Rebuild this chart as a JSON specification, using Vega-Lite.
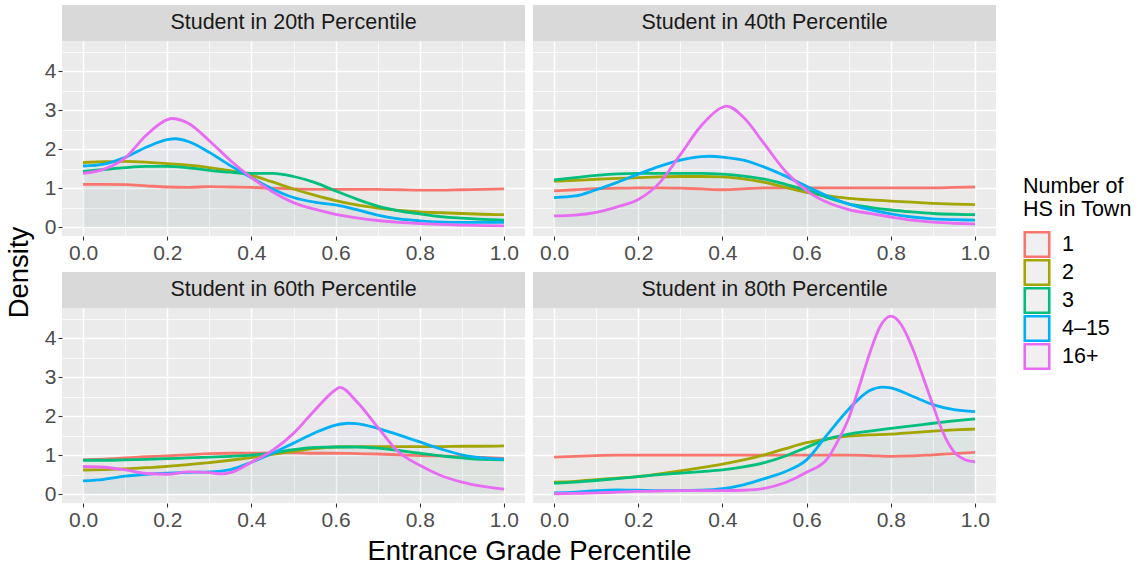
{
  "$schema": "https://vega.github.io/schema/vega-lite/v6.json",
  "padding": {"left": 5, "top": 5, "right": 5, "bottom": 2},
  "config": {
    "font": "Liberation Sans",
    "view": {"stroke": null},
    "axis": {
      "domain": false,
      "gridColor": "#FFFFFF",
      "gridOpacity": 1,
      "tickColor": "#333333",
      "tickSize": 4,
      "tickWidth": 1.1,
      "labelColor": "#4D4D4D",
      "labelFontSize": 21,
      "labelPadding": 2,
      "labelOverlap": false,
      "titleFontSize": 27.5,
      "titleFontWeight": "normal",
      "titleColor": "#000000"
    },
    "legend": {
      "symbolType": "square",
      "symbolSize": 600,
      "symbolStrokeWidth": 2.6,
      "symbolFillColor": "#F0F0F0",
      "symbolOpacity": 1,
      "labelFontSize": 21.5,
      "labelColor": "#000000",
      "labelOffset": 11,
      "clipHeight": 28,
      "rowPadding": 0,
      "titleFontSize": 21.5,
      "titleFontWeight": "normal",
      "titleColor": "#000000",
      "titleAlign": "left",
      "titleAnchor": "start",
      "titleLineHeight": 23,
      "titlePadding": 10,
      "padding": 0
    }
  },
  "datasets": {
    "curves": [
      {"p":"20th","g":"1","x":0,"y":1.10},{"p":"20th","g":"1","x":0.05,"y":1.10},{"p":"20th","g":"1","x":0.1,"y":1.09},{"p":"20th","g":"1","x":0.15,"y":1.06},{"p":"20th","g":"1","x":0.2,"y":1.03},{"p":"20th","g":"1","x":0.25,"y":1.02},{"p":"20th","g":"1","x":0.3,"y":1.04},{"p":"20th","g":"1","x":0.35,"y":1.03},{"p":"20th","g":"1","x":0.4,"y":1.02},{"p":"20th","g":"1","x":0.45,"y":1.0},{"p":"20th","g":"1","x":0.5,"y":0.98},{"p":"20th","g":"1","x":0.55,"y":0.97},{"p":"20th","g":"1","x":0.6,"y":0.97},{"p":"20th","g":"1","x":0.65,"y":0.97},{"p":"20th","g":"1","x":0.7,"y":0.97},{"p":"20th","g":"1","x":0.75,"y":0.96},{"p":"20th","g":"1","x":0.8,"y":0.95},{"p":"20th","g":"1","x":0.85,"y":0.95},{"p":"20th","g":"1","x":0.9,"y":0.96},{"p":"20th","g":"1","x":0.95,"y":0.97},{"p":"20th","g":"1","x":1,"y":0.98},
      {"p":"20th","g":"2","x":0,"y":1.66},{"p":"20th","g":"2","x":0.05,"y":1.68},{"p":"20th","g":"2","x":0.1,"y":1.69},{"p":"20th","g":"2","x":0.15,"y":1.67},{"p":"20th","g":"2","x":0.2,"y":1.63},{"p":"20th","g":"2","x":0.25,"y":1.59},{"p":"20th","g":"2","x":0.3,"y":1.53},{"p":"20th","g":"2","x":0.35,"y":1.45},{"p":"20th","g":"2","x":0.4,"y":1.33},{"p":"20th","g":"2","x":0.45,"y":1.16},{"p":"20th","g":"2","x":0.5,"y":0.98},{"p":"20th","g":"2","x":0.55,"y":0.82},{"p":"20th","g":"2","x":0.6,"y":0.68},{"p":"20th","g":"2","x":0.65,"y":0.57},{"p":"20th","g":"2","x":0.7,"y":0.49},{"p":"20th","g":"2","x":0.75,"y":0.43},{"p":"20th","g":"2","x":0.8,"y":0.39},{"p":"20th","g":"2","x":0.85,"y":0.37},{"p":"20th","g":"2","x":0.9,"y":0.35},{"p":"20th","g":"2","x":0.95,"y":0.33},{"p":"20th","g":"2","x":1,"y":0.32},
      {"p":"20th","g":"3","x":0,"y":1.43},{"p":"20th","g":"3","x":0.05,"y":1.48},{"p":"20th","g":"3","x":0.1,"y":1.53},{"p":"20th","g":"3","x":0.15,"y":1.56},{"p":"20th","g":"3","x":0.2,"y":1.56},{"p":"20th","g":"3","x":0.25,"y":1.52},{"p":"20th","g":"3","x":0.3,"y":1.46},{"p":"20th","g":"3","x":0.35,"y":1.41},{"p":"20th","g":"3","x":0.4,"y":1.38},{"p":"20th","g":"3","x":0.45,"y":1.38},{"p":"20th","g":"3","x":0.5,"y":1.30},{"p":"20th","g":"3","x":0.55,"y":1.15},{"p":"20th","g":"3","x":0.6,"y":0.93},{"p":"20th","g":"3","x":0.65,"y":0.72},{"p":"20th","g":"3","x":0.7,"y":0.54},{"p":"20th","g":"3","x":0.75,"y":0.42},{"p":"20th","g":"3","x":0.8,"y":0.34},{"p":"20th","g":"3","x":0.85,"y":0.27},{"p":"20th","g":"3","x":0.9,"y":0.23},{"p":"20th","g":"3","x":0.95,"y":0.20},{"p":"20th","g":"3","x":1,"y":0.18},
      {"p":"20th","g":"4–15","x":0,"y":1.57},{"p":"20th","g":"4–15","x":0.05,"y":1.62},{"p":"20th","g":"4–15","x":0.1,"y":1.79},{"p":"20th","g":"4–15","x":0.15,"y":2.05},{"p":"20th","g":"4–15","x":0.2,"y":2.25},{"p":"20th","g":"4–15","x":0.22,"y":2.27},{"p":"20th","g":"4–15","x":0.25,"y":2.20},{"p":"20th","g":"4–15","x":0.3,"y":1.92},{"p":"20th","g":"4–15","x":0.35,"y":1.58},{"p":"20th","g":"4–15","x":0.4,"y":1.27},{"p":"20th","g":"4–15","x":0.45,"y":0.98},{"p":"20th","g":"4–15","x":0.5,"y":0.76},{"p":"20th","g":"4–15","x":0.55,"y":0.64},{"p":"20th","g":"4–15","x":0.6,"y":0.57},{"p":"20th","g":"4–15","x":0.65,"y":0.45},{"p":"20th","g":"4–15","x":0.7,"y":0.31},{"p":"20th","g":"4–15","x":0.75,"y":0.21},{"p":"20th","g":"4–15","x":0.8,"y":0.16},{"p":"20th","g":"4–15","x":0.85,"y":0.13},{"p":"20th","g":"4–15","x":0.9,"y":0.12},{"p":"20th","g":"4–15","x":0.95,"y":0.12},{"p":"20th","g":"4–15","x":1,"y":0.12},
      {"p":"20th","g":"16+","x":0,"y":1.38},{"p":"20th","g":"16+","x":0.05,"y":1.49},{"p":"20th","g":"16+","x":0.1,"y":1.78},{"p":"20th","g":"16+","x":0.15,"y":2.36},{"p":"20th","g":"16+","x":0.2,"y":2.76},{"p":"20th","g":"16+","x":0.21,"y":2.79},{"p":"20th","g":"16+","x":0.25,"y":2.67},{"p":"20th","g":"16+","x":0.3,"y":2.22},{"p":"20th","g":"16+","x":0.35,"y":1.71},{"p":"20th","g":"16+","x":0.4,"y":1.27},{"p":"20th","g":"16+","x":0.45,"y":0.91},{"p":"20th","g":"16+","x":0.5,"y":0.63},{"p":"20th","g":"16+","x":0.55,"y":0.46},{"p":"20th","g":"16+","x":0.6,"y":0.33},{"p":"20th","g":"16+","x":0.65,"y":0.24},{"p":"20th","g":"16+","x":0.7,"y":0.17},{"p":"20th","g":"16+","x":0.75,"y":0.12},{"p":"20th","g":"16+","x":0.8,"y":0.09},{"p":"20th","g":"16+","x":0.85,"y":0.07},{"p":"20th","g":"16+","x":0.9,"y":0.05},{"p":"20th","g":"16+","x":0.95,"y":0.04},{"p":"20th","g":"16+","x":1,"y":0.03},

      {"p":"40th","g":"1","x":0,"y":0.93},{"p":"40th","g":"1","x":0.05,"y":0.96},{"p":"40th","g":"1","x":0.1,"y":0.99},{"p":"40th","g":"1","x":0.15,"y":1.0},{"p":"40th","g":"1","x":0.2,"y":1.01},{"p":"40th","g":"1","x":0.25,"y":1.01},{"p":"40th","g":"1","x":0.3,"y":1.0},{"p":"40th","g":"1","x":0.35,"y":0.98},{"p":"40th","g":"1","x":0.4,"y":0.96},{"p":"40th","g":"1","x":0.45,"y":0.98},{"p":"40th","g":"1","x":0.5,"y":1.01},{"p":"40th","g":"1","x":0.55,"y":1.01},{"p":"40th","g":"1","x":0.6,"y":1.01},{"p":"40th","g":"1","x":0.65,"y":1.01},{"p":"40th","g":"1","x":0.7,"y":1.01},{"p":"40th","g":"1","x":0.75,"y":1.01},{"p":"40th","g":"1","x":0.8,"y":1.01},{"p":"40th","g":"1","x":0.85,"y":1.01},{"p":"40th","g":"1","x":0.9,"y":1.01},{"p":"40th","g":"1","x":0.95,"y":1.02},{"p":"40th","g":"1","x":1,"y":1.03},
      {"p":"40th","g":"2","x":0,"y":1.18},{"p":"40th","g":"2","x":0.05,"y":1.20},{"p":"40th","g":"2","x":0.1,"y":1.23},{"p":"40th","g":"2","x":0.15,"y":1.25},{"p":"40th","g":"2","x":0.2,"y":1.27},{"p":"40th","g":"2","x":0.25,"y":1.29},{"p":"40th","g":"2","x":0.3,"y":1.30},{"p":"40th","g":"2","x":0.35,"y":1.30},{"p":"40th","g":"2","x":0.4,"y":1.29},{"p":"40th","g":"2","x":0.45,"y":1.24},{"p":"40th","g":"2","x":0.5,"y":1.15},{"p":"40th","g":"2","x":0.55,"y":1.02},{"p":"40th","g":"2","x":0.6,"y":0.89},{"p":"40th","g":"2","x":0.65,"y":0.80},{"p":"40th","g":"2","x":0.7,"y":0.74},{"p":"40th","g":"2","x":0.75,"y":0.70},{"p":"40th","g":"2","x":0.8,"y":0.67},{"p":"40th","g":"2","x":0.85,"y":0.64},{"p":"40th","g":"2","x":0.9,"y":0.61},{"p":"40th","g":"2","x":0.95,"y":0.59},{"p":"40th","g":"2","x":1,"y":0.58},
      {"p":"40th","g":"3","x":0,"y":1.21},{"p":"40th","g":"3","x":0.05,"y":1.27},{"p":"40th","g":"3","x":0.1,"y":1.33},{"p":"40th","g":"3","x":0.15,"y":1.37},{"p":"40th","g":"3","x":0.2,"y":1.38},{"p":"40th","g":"3","x":0.25,"y":1.38},{"p":"40th","g":"3","x":0.3,"y":1.38},{"p":"40th","g":"3","x":0.35,"y":1.38},{"p":"40th","g":"3","x":0.4,"y":1.36},{"p":"40th","g":"3","x":0.45,"y":1.31},{"p":"40th","g":"3","x":0.5,"y":1.23},{"p":"40th","g":"3","x":0.55,"y":1.10},{"p":"40th","g":"3","x":0.6,"y":0.95},{"p":"40th","g":"3","x":0.65,"y":0.76},{"p":"40th","g":"3","x":0.7,"y":0.60},{"p":"40th","g":"3","x":0.75,"y":0.51},{"p":"40th","g":"3","x":0.8,"y":0.44},{"p":"40th","g":"3","x":0.85,"y":0.39},{"p":"40th","g":"3","x":0.9,"y":0.35},{"p":"40th","g":"3","x":0.95,"y":0.33},{"p":"40th","g":"3","x":1,"y":0.32},
      {"p":"40th","g":"4–15","x":0,"y":0.76},{"p":"40th","g":"4–15","x":0.05,"y":0.80},{"p":"40th","g":"4–15","x":0.1,"y":0.96},{"p":"40th","g":"4–15","x":0.15,"y":1.15},{"p":"40th","g":"4–15","x":0.2,"y":1.36},{"p":"40th","g":"4–15","x":0.25,"y":1.56},{"p":"40th","g":"4–15","x":0.3,"y":1.72},{"p":"40th","g":"4–15","x":0.35,"y":1.81},{"p":"40th","g":"4–15","x":0.37,"y":1.82},{"p":"40th","g":"4–15","x":0.4,"y":1.80},{"p":"40th","g":"4–15","x":0.45,"y":1.72},{"p":"40th","g":"4–15","x":0.5,"y":1.54},{"p":"40th","g":"4–15","x":0.55,"y":1.31},{"p":"40th","g":"4–15","x":0.6,"y":1.05},{"p":"40th","g":"4–15","x":0.65,"y":0.80},{"p":"40th","g":"4–15","x":0.7,"y":0.59},{"p":"40th","g":"4–15","x":0.75,"y":0.45},{"p":"40th","g":"4–15","x":0.8,"y":0.34},{"p":"40th","g":"4–15","x":0.85,"y":0.26},{"p":"40th","g":"4–15","x":0.9,"y":0.21},{"p":"40th","g":"4–15","x":0.95,"y":0.19},{"p":"40th","g":"4–15","x":1,"y":0.18},
      {"p":"40th","g":"16+","x":0,"y":0.29},{"p":"40th","g":"16+","x":0.05,"y":0.31},{"p":"40th","g":"16+","x":0.1,"y":0.38},{"p":"40th","g":"16+","x":0.15,"y":0.52},{"p":"40th","g":"16+","x":0.2,"y":0.71},{"p":"40th","g":"16+","x":0.25,"y":1.13},{"p":"40th","g":"16+","x":0.3,"y":1.86},{"p":"40th","g":"16+","x":0.35,"y":2.61},{"p":"40th","g":"16+","x":0.4,"y":3.08},{"p":"40th","g":"16+","x":0.41,"y":3.11},{"p":"40th","g":"16+","x":0.45,"y":2.82},{"p":"40th","g":"16+","x":0.5,"y":2.13},{"p":"40th","g":"16+","x":0.55,"y":1.43},{"p":"40th","g":"16+","x":0.6,"y":0.94},{"p":"40th","g":"16+","x":0.65,"y":0.63},{"p":"40th","g":"16+","x":0.7,"y":0.45},{"p":"40th","g":"16+","x":0.75,"y":0.35},{"p":"40th","g":"16+","x":0.8,"y":0.26},{"p":"40th","g":"16+","x":0.85,"y":0.18},{"p":"40th","g":"16+","x":0.9,"y":0.13},{"p":"40th","g":"16+","x":0.95,"y":0.10},{"p":"40th","g":"16+","x":1,"y":0.08},

      {"p":"60th","g":"1","x":0,"y":0.88},{"p":"60th","g":"1","x":0.05,"y":0.90},{"p":"60th","g":"1","x":0.1,"y":0.93},{"p":"60th","g":"1","x":0.15,"y":0.96},{"p":"60th","g":"1","x":0.2,"y":0.98},{"p":"60th","g":"1","x":0.25,"y":1.01},{"p":"60th","g":"1","x":0.3,"y":1.04},{"p":"60th","g":"1","x":0.35,"y":1.05},{"p":"60th","g":"1","x":0.4,"y":1.05},{"p":"60th","g":"1","x":0.45,"y":1.06},{"p":"60th","g":"1","x":0.5,"y":1.06},{"p":"60th","g":"1","x":0.55,"y":1.05},{"p":"60th","g":"1","x":0.6,"y":1.05},{"p":"60th","g":"1","x":0.65,"y":1.04},{"p":"60th","g":"1","x":0.7,"y":1.03},{"p":"60th","g":"1","x":0.75,"y":1.01},{"p":"60th","g":"1","x":0.8,"y":0.99},{"p":"60th","g":"1","x":0.85,"y":0.98},{"p":"60th","g":"1","x":0.9,"y":0.96},{"p":"60th","g":"1","x":0.95,"y":0.94},{"p":"60th","g":"1","x":1,"y":0.92},
      {"p":"60th","g":"2","x":0,"y":0.62},{"p":"60th","g":"2","x":0.05,"y":0.63},{"p":"60th","g":"2","x":0.1,"y":0.65},{"p":"60th","g":"2","x":0.15,"y":0.68},{"p":"60th","g":"2","x":0.2,"y":0.71},{"p":"60th","g":"2","x":0.25,"y":0.76},{"p":"60th","g":"2","x":0.3,"y":0.81},{"p":"60th","g":"2","x":0.35,"y":0.87},{"p":"60th","g":"2","x":0.4,"y":0.94},{"p":"60th","g":"2","x":0.45,"y":1.02},{"p":"60th","g":"2","x":0.5,"y":1.10},{"p":"60th","g":"2","x":0.55,"y":1.17},{"p":"60th","g":"2","x":0.6,"y":1.21},{"p":"60th","g":"2","x":0.65,"y":1.22},{"p":"60th","g":"2","x":0.7,"y":1.22},{"p":"60th","g":"2","x":0.75,"y":1.22},{"p":"60th","g":"2","x":0.8,"y":1.22},{"p":"60th","g":"2","x":0.85,"y":1.22},{"p":"60th","g":"2","x":0.9,"y":1.23},{"p":"60th","g":"2","x":0.95,"y":1.23},{"p":"60th","g":"2","x":1,"y":1.24},
      {"p":"60th","g":"3","x":0,"y":0.87},{"p":"60th","g":"3","x":0.05,"y":0.87},{"p":"60th","g":"3","x":0.1,"y":0.88},{"p":"60th","g":"3","x":0.15,"y":0.89},{"p":"60th","g":"3","x":0.2,"y":0.91},{"p":"60th","g":"3","x":0.25,"y":0.93},{"p":"60th","g":"3","x":0.3,"y":0.95},{"p":"60th","g":"3","x":0.35,"y":0.97},{"p":"60th","g":"3","x":0.4,"y":1.0},{"p":"60th","g":"3","x":0.45,"y":1.06},{"p":"60th","g":"3","x":0.5,"y":1.14},{"p":"60th","g":"3","x":0.55,"y":1.20},{"p":"60th","g":"3","x":0.6,"y":1.21},{"p":"60th","g":"3","x":0.65,"y":1.21},{"p":"60th","g":"3","x":0.7,"y":1.18},{"p":"60th","g":"3","x":0.75,"y":1.12},{"p":"60th","g":"3","x":0.8,"y":1.05},{"p":"60th","g":"3","x":0.85,"y":0.98},{"p":"60th","g":"3","x":0.9,"y":0.93},{"p":"60th","g":"3","x":0.95,"y":0.89},{"p":"60th","g":"3","x":1,"y":0.88},
      {"p":"60th","g":"4–15","x":0,"y":0.34},{"p":"60th","g":"4–15","x":0.05,"y":0.38},{"p":"60th","g":"4–15","x":0.1,"y":0.46},{"p":"60th","g":"4–15","x":0.15,"y":0.51},{"p":"60th","g":"4–15","x":0.2,"y":0.54},{"p":"60th","g":"4–15","x":0.25,"y":0.56},{"p":"60th","g":"4–15","x":0.3,"y":0.57},{"p":"60th","g":"4–15","x":0.35,"y":0.63},{"p":"60th","g":"4–15","x":0.4,"y":0.82},{"p":"60th","g":"4–15","x":0.45,"y":1.05},{"p":"60th","g":"4–15","x":0.5,"y":1.31},{"p":"60th","g":"4–15","x":0.55,"y":1.57},{"p":"60th","g":"4–15","x":0.6,"y":1.77},{"p":"60th","g":"4–15","x":0.63,"y":1.82},{"p":"60th","g":"4–15","x":0.65,"y":1.81},{"p":"60th","g":"4–15","x":0.7,"y":1.69},{"p":"60th","g":"4–15","x":0.75,"y":1.52},{"p":"60th","g":"4–15","x":0.8,"y":1.34},{"p":"60th","g":"4–15","x":0.85,"y":1.16},{"p":"60th","g":"4–15","x":0.9,"y":1.01},{"p":"60th","g":"4–15","x":0.95,"y":0.93},{"p":"60th","g":"4–15","x":1,"y":0.90},
      {"p":"60th","g":"16+","x":0,"y":0.71},{"p":"60th","g":"16+","x":0.05,"y":0.69},{"p":"60th","g":"16+","x":0.1,"y":0.62},{"p":"60th","g":"16+","x":0.15,"y":0.53},{"p":"60th","g":"16+","x":0.2,"y":0.51},{"p":"60th","g":"16+","x":0.25,"y":0.57},{"p":"60th","g":"16+","x":0.3,"y":0.55},{"p":"60th","g":"16+","x":0.33,"y":0.52},{"p":"60th","g":"16+","x":0.35,"y":0.55},{"p":"60th","g":"16+","x":0.4,"y":0.82},{"p":"60th","g":"16+","x":0.45,"y":1.12},{"p":"60th","g":"16+","x":0.5,"y":1.56},{"p":"60th","g":"16+","x":0.55,"y":2.15},{"p":"60th","g":"16+","x":0.6,"y":2.68},{"p":"60th","g":"16+","x":0.61,"y":2.74},{"p":"60th","g":"16+","x":0.65,"y":2.38},{"p":"60th","g":"16+","x":0.7,"y":1.72},{"p":"60th","g":"16+","x":0.75,"y":1.08},{"p":"60th","g":"16+","x":0.8,"y":0.74},{"p":"60th","g":"16+","x":0.85,"y":0.48},{"p":"60th","g":"16+","x":0.9,"y":0.31},{"p":"60th","g":"16+","x":0.95,"y":0.20},{"p":"60th","g":"16+","x":1,"y":0.13},

      {"p":"80th","g":"1","x":0,"y":0.95},{"p":"80th","g":"1","x":0.05,"y":0.97},{"p":"80th","g":"1","x":0.1,"y":0.99},{"p":"80th","g":"1","x":0.15,"y":1.0},{"p":"80th","g":"1","x":0.2,"y":1.0},{"p":"80th","g":"1","x":0.25,"y":1.0},{"p":"80th","g":"1","x":0.3,"y":1.0},{"p":"80th","g":"1","x":0.35,"y":1.0},{"p":"80th","g":"1","x":0.4,"y":1.0},{"p":"80th","g":"1","x":0.45,"y":1.0},{"p":"80th","g":"1","x":0.5,"y":1.0},{"p":"80th","g":"1","x":0.55,"y":1.0},{"p":"80th","g":"1","x":0.6,"y":1.0},{"p":"80th","g":"1","x":0.65,"y":1.0},{"p":"80th","g":"1","x":0.7,"y":1.0},{"p":"80th","g":"1","x":0.75,"y":0.99},{"p":"80th","g":"1","x":0.8,"y":0.97},{"p":"80th","g":"1","x":0.85,"y":0.98},{"p":"80th","g":"1","x":0.9,"y":1.01},{"p":"80th","g":"1","x":0.95,"y":1.04},{"p":"80th","g":"1","x":1,"y":1.07},
      {"p":"80th","g":"2","x":0,"y":0.31},{"p":"80th","g":"2","x":0.05,"y":0.33},{"p":"80th","g":"2","x":0.1,"y":0.37},{"p":"80th","g":"2","x":0.15,"y":0.41},{"p":"80th","g":"2","x":0.2,"y":0.45},{"p":"80th","g":"2","x":0.25,"y":0.52},{"p":"80th","g":"2","x":0.3,"y":0.60},{"p":"80th","g":"2","x":0.35,"y":0.68},{"p":"80th","g":"2","x":0.4,"y":0.77},{"p":"80th","g":"2","x":0.45,"y":0.88},{"p":"80th","g":"2","x":0.5,"y":1.01},{"p":"80th","g":"2","x":0.55,"y":1.17},{"p":"80th","g":"2","x":0.6,"y":1.32},{"p":"80th","g":"2","x":0.65,"y":1.42},{"p":"80th","g":"2","x":0.7,"y":1.49},{"p":"80th","g":"2","x":0.75,"y":1.52},{"p":"80th","g":"2","x":0.8,"y":1.54},{"p":"80th","g":"2","x":0.85,"y":1.58},{"p":"80th","g":"2","x":0.9,"y":1.62},{"p":"80th","g":"2","x":0.95,"y":1.65},{"p":"80th","g":"2","x":1,"y":1.67},
      {"p":"80th","g":"3","x":0,"y":0.28},{"p":"80th","g":"3","x":0.05,"y":0.31},{"p":"80th","g":"3","x":0.1,"y":0.35},{"p":"80th","g":"3","x":0.15,"y":0.40},{"p":"80th","g":"3","x":0.2,"y":0.45},{"p":"80th","g":"3","x":0.25,"y":0.50},{"p":"80th","g":"3","x":0.3,"y":0.54},{"p":"80th","g":"3","x":0.35,"y":0.58},{"p":"80th","g":"3","x":0.4,"y":0.62},{"p":"80th","g":"3","x":0.45,"y":0.70},{"p":"80th","g":"3","x":0.5,"y":0.81},{"p":"80th","g":"3","x":0.55,"y":0.98},{"p":"80th","g":"3","x":0.6,"y":1.20},{"p":"80th","g":"3","x":0.65,"y":1.42},{"p":"80th","g":"3","x":0.7,"y":1.54},{"p":"80th","g":"3","x":0.75,"y":1.62},{"p":"80th","g":"3","x":0.8,"y":1.69},{"p":"80th","g":"3","x":0.85,"y":1.75},{"p":"80th","g":"3","x":0.9,"y":1.82},{"p":"80th","g":"3","x":0.95,"y":1.88},{"p":"80th","g":"3","x":1,"y":1.93},
      {"p":"80th","g":"4–15","x":0,"y":0.03},{"p":"80th","g":"4–15","x":0.05,"y":0.05},{"p":"80th","g":"4–15","x":0.1,"y":0.09},{"p":"80th","g":"4–15","x":0.15,"y":0.11},{"p":"80th","g":"4–15","x":0.2,"y":0.10},{"p":"80th","g":"4–15","x":0.25,"y":0.09},{"p":"80th","g":"4–15","x":0.3,"y":0.09},{"p":"80th","g":"4–15","x":0.35,"y":0.10},{"p":"80th","g":"4–15","x":0.4,"y":0.14},{"p":"80th","g":"4–15","x":0.45,"y":0.24},{"p":"80th","g":"4–15","x":0.5,"y":0.40},{"p":"80th","g":"4–15","x":0.55,"y":0.58},{"p":"80th","g":"4–15","x":0.6,"y":0.88},{"p":"80th","g":"4–15","x":0.65,"y":1.54},{"p":"80th","g":"4–15","x":0.7,"y":2.18},{"p":"80th","g":"4–15","x":0.75,"y":2.66},{"p":"80th","g":"4–15","x":0.78,"y":2.75},{"p":"80th","g":"4–15","x":0.8,"y":2.73},{"p":"80th","g":"4–15","x":0.85,"y":2.52},{"p":"80th","g":"4–15","x":0.9,"y":2.30},{"p":"80th","g":"4–15","x":0.95,"y":2.17},{"p":"80th","g":"4–15","x":1,"y":2.12},
      {"p":"80th","g":"16+","x":0,"y":0.01},{"p":"80th","g":"16+","x":0.05,"y":0.02},{"p":"80th","g":"16+","x":0.1,"y":0.03},{"p":"80th","g":"16+","x":0.15,"y":0.05},{"p":"80th","g":"16+","x":0.2,"y":0.07},{"p":"80th","g":"16+","x":0.25,"y":0.08},{"p":"80th","g":"16+","x":0.3,"y":0.09},{"p":"80th","g":"16+","x":0.35,"y":0.09},{"p":"80th","g":"16+","x":0.4,"y":0.09},{"p":"80th","g":"16+","x":0.45,"y":0.10},{"p":"80th","g":"16+","x":0.5,"y":0.15},{"p":"80th","g":"16+","x":0.55,"y":0.30},{"p":"80th","g":"16+","x":0.6,"y":0.56},{"p":"80th","g":"16+","x":0.65,"y":0.92},{"p":"80th","g":"16+","x":0.675,"y":1.38},{"p":"80th","g":"16+","x":0.7,"y":1.95},{"p":"80th","g":"16+","x":0.725,"y":2.76},{"p":"80th","g":"16+","x":0.75,"y":3.62},{"p":"80th","g":"16+","x":0.775,"y":4.31},{"p":"80th","g":"16+","x":0.8,"y":4.57},{"p":"80th","g":"16+","x":0.825,"y":4.35},{"p":"80th","g":"16+","x":0.85,"y":3.79},{"p":"80th","g":"16+","x":0.875,"y":3.06},{"p":"80th","g":"16+","x":0.9,"y":2.29},{"p":"80th","g":"16+","x":0.925,"y":1.56},{"p":"80th","g":"16+","x":0.95,"y":1.09},{"p":"80th","g":"16+","x":0.975,"y":0.89},{"p":"80th","g":"16+","x":1,"y":0.83}
    ]
  },
  "bounds": "flush",
  "columns": 2,
  "spacing": {"row": 0, "column": 8},
  "concat": [
    {"width": 463, "height": 36, "view": {"fill": "#D9D9D9", "stroke": null}, "data": {"values": [{"label": "Student in 20th Percentile"}]}, "mark": {"type": "text", "fontSize": 21.5, "color": "#1A1A1A", "baseline": "middle"}, "encoding": {"text": {"field": "label"}}},
    {"width": 463, "height": 36, "view": {"fill": "#D9D9D9", "stroke": null}, "data": {"values": [{"label": "Student in 40th Percentile"}]}, "mark": {"type": "text", "fontSize": 21.5, "color": "#1A1A1A", "baseline": "middle"}, "encoding": {"text": {"field": "label"}}},
    {
      "width": 463, "height": 195, "view": {"fill": "#EBEBEB", "stroke": null},
      "data": {"name": "curves"},
      "transform": [{"filter": "datum.p === '20th'"}],
      "encoding": {
        "x": {"field": "x", "type": "quantitative", "scale": {"domain": [-0.05, 1.05], "nice": false, "zero": false},
          "axis": {"title": null, "values": [0,0.1,0.2,0.3,0.4,0.5,0.6,0.7,0.8,0.9,1], "labelExpr": "round(datum.value*10) % 2 === 0 ? format(datum.value, '.1f') : ''", "gridWidth": {"condition": {"test": "round(datum.value*10) % 2 === 0", "value": 1.5}, "value": 0.75}, "tickOpacity": {"condition": {"test": "round(datum.value*10) % 2 === 0", "value": 1}, "value": 0}}},
        "y": {"field": "y", "type": "quantitative", "stack": null, "scale": {"domain": [-0.228, 4.78], "nice": false, "zero": false},
          "axis": {"title": "Density", "titleX": -35, "titleY": 231, "titleBaseline": "alphabetic", "values": [0,0.5,1,1.5,2,2.5,3,3.5,4,4.5], "labelExpr": "datum.value % 1 === 0 ? format(datum.value, 'd') : ''", "gridWidth": {"condition": {"test": "datum.value % 1 === 0", "value": 1.5}, "value": 0.75}, "tickOpacity": {"condition": {"test": "datum.value % 1 === 0", "value": 1}, "value": 0}}}
      },
      "layer": [
        {"mark": {"type": "area", "interpolate": "monotone", "fillOpacity": 0.025}, "encoding": {"y2": {"datum": 0}, "fill": {"field": "g", "type": "nominal", "scale": {"domain": ["16+","4–15","3","2","1"], "range": ["#E76BF3","#00B0F6","#00BF7D","#A3A500","#F8766D"]}, "legend": null}}},
        {"mark": {"type": "line", "interpolate": "monotone", "strokeWidth": 2.8}, "encoding": {"color": {"field": "g", "type": "nominal", "scale": {"domain": ["1","2","3","4–15","16+"], "range": ["#F8766D","#A3A500","#00BF7D","#00B0F6","#E76BF3"]},
          "legend": {"title": ["Number of", "HS in Town"], "orient": "none", "legendX": 961, "legendY": 171}}}}
      ]
    },
    {
      "width": 463, "height": 195, "view": {"fill": "#EBEBEB", "stroke": null},
      "data": {"name": "curves"},
      "transform": [{"filter": "datum.p === '40th'"}],
      "encoding": {
        "x": {"field": "x", "type": "quantitative", "scale": {"domain": [-0.05, 1.05], "nice": false, "zero": false},
          "axis": {"title": null, "values": [0,0.1,0.2,0.3,0.4,0.5,0.6,0.7,0.8,0.9,1], "labelExpr": "round(datum.value*10) % 2 === 0 ? format(datum.value, '.1f') : ''", "gridWidth": {"condition": {"test": "round(datum.value*10) % 2 === 0", "value": 1.5}, "value": 0.75}, "tickOpacity": {"condition": {"test": "round(datum.value*10) % 2 === 0", "value": 1}, "value": 0}}},
        "y": {"field": "y", "type": "quantitative", "stack": null, "scale": {"domain": [-0.228, 4.78], "nice": false, "zero": false},
          "axis": {"title": null, "labels": false, "ticks": false, "values": [0,0.5,1,1.5,2,2.5,3,3.5,4,4.5], "gridWidth": {"condition": {"test": "datum.value % 1 === 0", "value": 1.5}, "value": 0.75}}}
      },
      "layer": [
        {"mark": {"type": "area", "interpolate": "monotone", "fillOpacity": 0.025}, "encoding": {"y2": {"datum": 0}, "fill": {"field": "g", "type": "nominal", "scale": {"domain": ["16+","4–15","3","2","1"], "range": ["#E76BF3","#00B0F6","#00BF7D","#A3A500","#F8766D"]}, "legend": null}}},
        {"mark": {"type": "line", "interpolate": "monotone", "strokeWidth": 2.8}, "encoding": {"color": {"field": "g", "type": "nominal", "scale": {"domain": ["1","2","3","4–15","16+"], "range": ["#F8766D","#A3A500","#00BF7D","#00B0F6","#E76BF3"]}, "legend": {"title": ["Number of", "HS in Town"], "orient": "none", "legendX": 961, "legendY": 171}}}}
      ]
    },
    {"width": 463, "height": 36, "data": {"values": []}, "mark": {"type": "text"}, "encoding": {}},
    {"width": 463, "height": 36, "data": {"values": []}, "mark": {"type": "text"}, "encoding": {}},
    {"width": 463, "height": 36, "view": {"fill": "#D9D9D9", "stroke": null}, "data": {"values": [{"label": "Student in 60th Percentile"}]}, "mark": {"type": "text", "fontSize": 21.5, "color": "#1A1A1A", "baseline": "middle"}, "encoding": {"text": {"field": "label"}}},
    {"width": 463, "height": 36, "view": {"fill": "#D9D9D9", "stroke": null}, "data": {"values": [{"label": "Student in 80th Percentile"}]}, "mark": {"type": "text", "fontSize": 21.5, "color": "#1A1A1A", "baseline": "middle"}, "encoding": {"text": {"field": "label"}}},
    {
      "width": 463, "height": 195, "view": {"fill": "#EBEBEB", "stroke": null},
      "data": {"name": "curves"},
      "transform": [{"filter": "datum.p === '60th'"}],
      "encoding": {
        "x": {"field": "x", "type": "quantitative", "scale": {"domain": [-0.05, 1.05], "nice": false, "zero": false},
          "axis": {"title": "Entrance Grade Percentile", "titleX": 467, "titleY": 56, "titleBaseline": "alphabetic", "values": [0,0.1,0.2,0.3,0.4,0.5,0.6,0.7,0.8,0.9,1], "labelExpr": "round(datum.value*10) % 2 === 0 ? format(datum.value, '.1f') : ''", "gridWidth": {"condition": {"test": "round(datum.value*10) % 2 === 0", "value": 1.5}, "value": 0.75}, "tickOpacity": {"condition": {"test": "round(datum.value*10) % 2 === 0", "value": 1}, "value": 0}}},
        "y": {"field": "y", "type": "quantitative", "stack": null, "scale": {"domain": [-0.228, 4.78], "nice": false, "zero": false},
          "axis": {"title": null, "values": [0,0.5,1,1.5,2,2.5,3,3.5,4,4.5], "labelExpr": "datum.value % 1 === 0 ? format(datum.value, 'd') : ''", "gridWidth": {"condition": {"test": "datum.value % 1 === 0", "value": 1.5}, "value": 0.75}, "tickOpacity": {"condition": {"test": "datum.value % 1 === 0", "value": 1}, "value": 0}}}
      },
      "layer": [
        {"mark": {"type": "area", "interpolate": "monotone", "fillOpacity": 0.025}, "encoding": {"y2": {"datum": 0}, "fill": {"field": "g", "type": "nominal", "scale": {"domain": ["16+","4–15","3","2","1"], "range": ["#E76BF3","#00B0F6","#00BF7D","#A3A500","#F8766D"]}, "legend": null}}},
        {"mark": {"type": "line", "interpolate": "monotone", "strokeWidth": 2.8}, "encoding": {"color": {"field": "g", "type": "nominal", "scale": {"domain": ["1","2","3","4–15","16+"], "range": ["#F8766D","#A3A500","#00BF7D","#00B0F6","#E76BF3"]}, "legend": {"title": ["Number of", "HS in Town"], "orient": "none", "legendX": 961, "legendY": 171}}}}
      ]
    },
    {
      "width": 463, "height": 195, "view": {"fill": "#EBEBEB", "stroke": null},
      "data": {"name": "curves"},
      "transform": [{"filter": "datum.p === '80th'"}],
      "encoding": {
        "x": {"field": "x", "type": "quantitative", "scale": {"domain": [-0.05, 1.05], "nice": false, "zero": false},
          "axis": {"title": null, "values": [0,0.1,0.2,0.3,0.4,0.5,0.6,0.7,0.8,0.9,1], "labelExpr": "round(datum.value*10) % 2 === 0 ? format(datum.value, '.1f') : ''", "gridWidth": {"condition": {"test": "round(datum.value*10) % 2 === 0", "value": 1.5}, "value": 0.75}, "tickOpacity": {"condition": {"test": "round(datum.value*10) % 2 === 0", "value": 1}, "value": 0}}},
        "y": {"field": "y", "type": "quantitative", "stack": null, "scale": {"domain": [-0.228, 4.78], "nice": false, "zero": false},
          "axis": {"title": null, "labels": false, "ticks": false, "values": [0,0.5,1,1.5,2,2.5,3,3.5,4,4.5], "gridWidth": {"condition": {"test": "datum.value % 1 === 0", "value": 1.5}, "value": 0.75}}}
      },
      "layer": [
        {"mark": {"type": "area", "interpolate": "monotone", "fillOpacity": 0.025}, "encoding": {"y2": {"datum": 0}, "fill": {"field": "g", "type": "nominal", "scale": {"domain": ["16+","4–15","3","2","1"], "range": ["#E76BF3","#00B0F6","#00BF7D","#A3A500","#F8766D"]}, "legend": null}}},
        {"mark": {"type": "line", "interpolate": "monotone", "strokeWidth": 2.8}, "encoding": {"color": {"field": "g", "type": "nominal", "scale": {"domain": ["1","2","3","4–15","16+"], "range": ["#F8766D","#A3A500","#00BF7D","#00B0F6","#E76BF3"]}, "legend": {"title": ["Number of", "HS in Town"], "orient": "none", "legendX": 961, "legendY": 171}}}}
      ]
    }
  ]
}
